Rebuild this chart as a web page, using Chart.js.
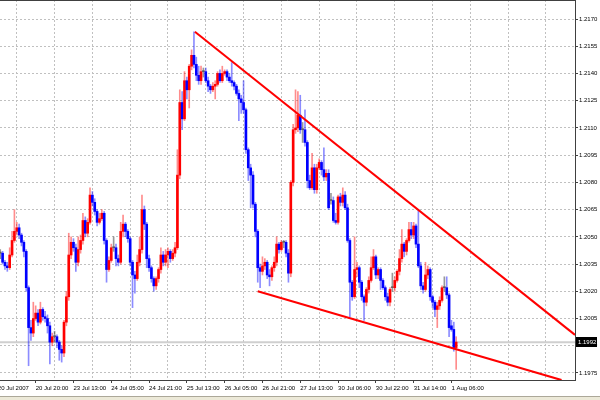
<!DOCTYPE html>
<html>
<head>
<meta charset="utf-8">
<script src="https://cdn.jsdelivr.net/npm/chart.js@4.4.1/dist/chart.umd.min.js"></script>
<style>
  html, body { margin: 0; padding: 0; background: #fff; }
  #chart { display: block; }
</style>
</head>
<body>
<canvas id="chart" width="600" height="400"></canvas>
<script>
// hourly candles, USDCHF 20 Jul - 1 Aug 2007
const opens = [
  1.2041,1.2041,1.2036,1.2034,1.2033,1.2040,1.2048,1.2053,1.2055,1.2051,
  1.2047,1.2042,1.2022,1.2000,1.1997,1.2005,1.2008,1.2003,1.2010,1.2006,
  1.2005,1.2001,1.1992,1.1995,1.1995,1.1992,1.1988,1.1986,1.2003,1.2017,
  1.2040,1.2047,1.2044,1.2036,1.2043,1.2048,1.2059,1.2052,1.2058,1.2073,
  1.2069,1.2064,1.2058,1.2060,1.2063,1.2048,1.2032,1.2037,1.2044,1.2044,
  1.2038,1.2036,1.2053,1.2057,1.2053,1.2049,1.2036,1.2029,1.2027,1.2036,
  1.2043,1.2065,1.2057,1.2038,1.2033,1.2027,1.2023,1.2027,1.2032,1.2040,
  1.2036,1.2040,1.2042,1.2038,1.2041,1.2044,1.2084,1.2124,1.2115,1.2136,
  1.2131,1.2144,1.2150,1.2145,1.2139,1.2136,1.2141,1.2141,1.2136,1.2133,
  1.2131,1.2133,1.2134,1.2140,1.2136,1.2140,1.2141,1.2138,1.2136,1.2135,
  1.2133,1.2129,1.2126,1.2124,1.2120,1.2098,1.2088,1.2084,1.2068,1.2053,
  1.2033,1.2031,1.2034,1.2036,1.2029,1.2028,1.2033,1.2036,1.2046,1.2043,
  1.2047,1.2047,1.2041,1.2030,1.2080,1.2109,1.2110,1.2117,1.2109,1.2109,
  1.2102,1.2081,1.2077,1.2088,1.2076,1.2088,1.2091,1.2087,1.2083,1.2085,
  1.2070,1.2070,1.2059,1.2058,1.2072,1.2069,1.2073,1.2066,1.2048,1.2025,
  1.2017,1.2032,1.2033,1.2025,1.2017,1.2014,1.2021,1.2026,1.2033,1.2039,
  1.2029,1.2032,1.2026,1.2022,1.2017,1.2014,1.2022,1.2022,1.2026,1.2031,
  1.2038,1.2046,1.2042,1.2048,1.2054,1.2051,1.2056,1.2046,1.2034,1.2023,
  1.2021,1.2029,1.2032,1.2017,1.2014,1.2010,1.2012,1.2015,1.2022,1.2022,
  1.2018,1.2001,1.1999,1.1989
];
const highs = [
  1.2043,1.2042,1.2037,1.2036,1.2044,1.2053,1.2065,1.2058,1.2057,1.2052,
  1.2048,1.2043,1.2023,1.2004,1.2014,1.2012,1.2010,1.2014,1.2011,1.2009,
  1.2007,1.2003,1.1997,1.1998,1.1996,1.1993,1.1990,1.2004,1.2020,1.2052,
  1.2050,1.2049,1.2046,1.2050,1.2051,1.2063,1.2061,1.2060,1.2077,1.2075,
  1.2071,1.2065,1.2063,1.2065,1.2064,1.2049,1.2039,1.2046,1.2050,1.2046,
  1.2040,1.2058,1.2062,1.2058,1.2054,1.2050,1.2037,1.2031,1.2040,1.2050,
  1.2073,1.2067,1.2058,1.2040,1.2034,1.2028,1.2028,1.2033,1.2044,1.2042,
  1.2043,1.2044,1.2043,1.2043,1.2047,1.2098,1.2131,1.2130,1.2141,1.2138,
  1.2145,1.2153,1.2163,1.2149,1.2144,1.2144,1.2143,1.2143,1.2138,1.2134,
  1.2135,1.2136,1.2141,1.2142,1.2144,1.2142,1.2142,1.2140,1.2146,1.2136,
  1.2134,1.2131,1.2128,1.2136,1.2121,1.2099,1.2090,1.2086,1.2069,1.2054,
  1.2035,1.2039,1.2038,1.2037,1.2032,1.2034,1.2039,1.2050,1.2047,1.2048,
  1.2048,1.2048,1.2043,1.2081,1.2112,1.2131,1.2130,1.2128,1.2113,1.2120,
  1.2103,1.2084,1.2096,1.2090,1.2090,1.2093,1.2092,1.2099,1.2087,1.2087,
  1.2074,1.2072,1.2063,1.2073,1.2074,1.2077,1.2075,1.2068,1.2049,1.2026,
  1.2050,1.2036,1.2034,1.2026,1.2018,1.2022,1.2028,1.2039,1.2043,1.2040,
  1.2033,1.2033,1.2027,1.2023,1.2019,1.2022,1.2030,1.2028,1.2032,1.2043,
  1.2054,1.2047,1.2049,1.2058,1.2058,1.2058,1.2057,1.2065,1.2036,1.2025,
  1.2036,1.2034,1.2033,1.2018,1.2015,1.2014,1.2017,1.2023,1.2028,1.2028,
  1.2019,1.2004,1.2003,1.1995
];
const lows = [
  1.2038,1.2035,1.2032,1.2031,1.2032,1.2039,1.2047,1.2051,1.2049,1.2045,
  1.2039,1.2020,1.1979,1.1993,1.1995,1.2004,1.2001,1.2002,1.2004,1.2003,
  1.1997,1.1980,1.1990,1.1992,1.1989,1.1982,1.1981,1.1984,1.2001,1.2015,
  1.2038,1.2042,1.2031,1.2034,1.2041,1.2046,1.2050,1.2050,1.2057,1.2067,
  1.2062,1.2056,1.2057,1.2059,1.2046,1.2025,1.2031,1.2036,1.2042,1.2034,
  1.2034,1.2035,1.2050,1.2050,1.2047,1.2034,1.2011,1.2019,1.2026,1.2034,
  1.2041,1.2054,1.2033,1.2031,1.2025,1.2020,1.2021,1.2025,1.2030,1.2034,
  1.2034,1.2033,1.2036,1.2037,1.2039,1.2043,1.2082,1.2109,1.2114,1.2126,
  1.2121,1.2142,1.2143,1.2136,1.2134,1.2134,1.2138,1.2135,1.2130,1.2129,
  1.2130,1.2126,1.2133,1.2135,1.2135,1.2139,1.2136,1.2135,1.2133,1.2131,
  1.2128,1.2114,1.2118,1.2118,1.2096,1.2081,1.2066,1.2066,1.2050,1.2025,
  1.2022,1.2029,1.2032,1.2027,1.2023,1.2026,1.2031,1.2034,1.2041,1.2042,
  1.2044,1.2039,1.2025,1.2028,1.2078,1.2107,1.2108,1.2107,1.2102,1.2100,
  1.2077,1.2076,1.2076,1.2074,1.2074,1.2087,1.2084,1.2081,1.2081,1.2065,
  1.2068,1.2058,1.2057,1.2057,1.2067,1.2067,1.2065,1.2047,1.2006,1.2015,
  1.2016,1.2028,1.2022,1.2015,1.2004,1.2012,1.2019,1.2025,1.2032,1.2027,
  1.2027,1.2021,1.2021,1.2015,1.2012,1.2012,1.2020,1.2020,1.2025,1.2029,
  1.2036,1.2039,1.2040,1.2047,1.2049,1.2049,1.2044,1.2033,1.2021,1.2019,
  1.2020,1.2027,1.2015,1.2011,1.2006,1.2000,1.2010,1.2014,1.2020,1.2016,
  1.1995,1.1998,1.1987,1.1977
];
const closes = [
  1.2041,1.2036,1.2034,1.2033,1.2040,1.2048,1.2053,1.2055,1.2051,1.2047,
  1.2042,1.2022,1.2000,1.1997,1.2005,1.2008,1.2003,1.2010,1.2006,1.2005,
  1.2001,1.1992,1.1995,1.1995,1.1992,1.1988,1.1986,1.2003,1.2017,1.2040,
  1.2047,1.2044,1.2036,1.2043,1.2048,1.2059,1.2052,1.2058,1.2073,1.2069,
  1.2064,1.2058,1.2060,1.2063,1.2048,1.2032,1.2037,1.2044,1.2044,1.2038,
  1.2036,1.2053,1.2057,1.2053,1.2049,1.2036,1.2029,1.2027,1.2036,1.2043,
  1.2065,1.2057,1.2038,1.2033,1.2027,1.2023,1.2027,1.2032,1.2040,1.2036,
  1.2040,1.2042,1.2038,1.2041,1.2044,1.2084,1.2124,1.2115,1.2136,1.2131,
  1.2144,1.2150,1.2145,1.2139,1.2136,1.2141,1.2141,1.2136,1.2133,1.2131,
  1.2133,1.2134,1.2140,1.2136,1.2140,1.2141,1.2138,1.2136,1.2135,1.2133,
  1.2129,1.2126,1.2124,1.2120,1.2098,1.2088,1.2084,1.2068,1.2053,1.2033,
  1.2031,1.2034,1.2036,1.2029,1.2028,1.2033,1.2036,1.2046,1.2043,1.2047,
  1.2047,1.2041,1.2030,1.2080,1.2109,1.2110,1.2117,1.2109,1.2109,1.2102,
  1.2081,1.2077,1.2088,1.2076,1.2088,1.2091,1.2087,1.2083,1.2085,1.2066,
  1.2070,1.2059,1.2058,1.2072,1.2069,1.2073,1.2066,1.2048,1.2025,1.2017,
  1.2032,1.2033,1.2025,1.2017,1.2014,1.2021,1.2026,1.2033,1.2039,1.2029,
  1.2032,1.2026,1.2022,1.2017,1.2014,1.2021,1.2022,1.2026,1.2031,1.2038,
  1.2046,1.2042,1.2048,1.2054,1.2051,1.2056,1.2046,1.2034,1.2023,1.2021,
  1.2029,1.2032,1.2017,1.2014,1.2010,1.2012,1.2015,1.2022,1.2022,1.2018,
  1.2000,1.1999,1.1989,1.1992
];

// time axis: label every 16 bars, grid halfway between labels
const dateLabels = ['20 Jul 2007', '20 Jul 20:00', '23 Jul 13:00', '24 Jul 05:00', '24 Jul 21:00',
  '25 Jul 13:00', '26 Jul 05:00', '26 Jul 21:00', '27 Jul 13:00', '30 Jul 06:00',
  '30 Jul 22:00', '31 Jul 14:00', '1 Aug 06:00'];
const labelBars = [-1, 15, 31, 47, 63, 79, 95, 111, 127, 143, 159, 175, 191];
const gridBars = [7, 23, 39, 55, 71, 87, 103, 119, 135, 151, 167, 183, 199, 215, 231];

const priceTicks = [1.1975, 1.1990, 1.2005, 1.2020, 1.2035, 1.2050, 1.2065, 1.2080,
  1.2095, 1.2110, 1.2125, 1.2140, 1.2155, 1.2170];

// trend lines drawn on the chart: [bar, price] pairs
const upperTrend = [[82.4, 1.2163], [243.3, 1.1996]];
const lowerTrend = [[109, 1.2020], [237.6, 1.19711]];
const bidPrice = 1.1992;

const X_MIN = -0.1, X_MAX = 243.3;
const Y_MIN = 1.197114, Y_MAX = 1.218047;
const FONT = {family: "'Liberation Sans', Arial, sans-serif", size: 6};

function dir(i) {
    if (closes[i] > opens[i]) return 1;
    if (closes[i] < opens[i]) return -1;
    return 0;
}
const bodyColor = ctx => ({'1': '#ff0000', '-1': '#0000ff', '0': '#606060'})[dir(ctx.dataIndex)];
const wickColor = ctx => ({'1': 'rgba(255,0,0,0.45)', '-1': 'rgba(0,0,255,0.45)', '0': 'rgba(0,0,0,0.4)'})[dir(ctx.dataIndex)];

const priceBox = {
    id: 'priceBox',
    afterDraw(chart) {
        const {ctx, chartArea, scales} = chart;
        ctx.save();
        // top frame line
        ctx.strokeStyle = '#404040';
        ctx.lineWidth = 1;
        ctx.beginPath();
        ctx.moveTo(chartArea.left, chartArea.top + 0.5);
        ctx.lineTo(chartArea.right + 0.5, chartArea.top + 0.5);
        ctx.stroke();
        // current bid label
        const y = scales.y.getPixelForValue(bidPrice);
        ctx.fillStyle = '#000';
        ctx.fillRect(chartArea.right + 1, Math.round(y) - 5, 21, 10);
        ctx.fillStyle = '#fff';
        ctx.font = "6px 'Liberation Sans', Arial, sans-serif";
        ctx.textBaseline = 'middle';
        ctx.textAlign = 'left';
        ctx.fillText(bidPrice.toFixed(4), chartArea.right + 3, Math.round(y));
        // tab strip under the time axis
        ctx.fillStyle = '#ece9d8';
        ctx.fillRect(0, 396, 600, 4);
        ctx.fillStyle = '#aca899';
        ctx.fillRect(0, 396, 600, 1);
        ctx.restore();
    }
};

new Chart(document.getElementById('chart'), {
    data: {
        datasets: [
            {
                type: 'line',
                data: [{x: X_MIN, y: bidPrice}, {x: X_MAX, y: bidPrice}],
                borderColor: '#cfcfcf',
                borderWidth: 2,
                pointRadius: 0,
                order: 4
            },
            {
                type: 'bar',
                data: highs.map((h, i) => ({x: i, y: [lows[i], h]})),
                backgroundColor: wickColor,
                barThickness: 1,
                grouped: false,
                order: 3
            },
            {
                type: 'bar',
                data: opens.map((o, i) => ({x: i, y: [o, closes[i]]})),
                backgroundColor: bodyColor,
                barThickness: 2,
                minBarLength: 1,
                grouped: false,
                order: 2
            },
            {
                type: 'line',
                data: upperTrend.map(p => ({x: p[0], y: p[1]})),
                borderColor: '#ff0000',
                borderWidth: 2,
                pointRadius: 0,
                order: 1
            },
            {
                type: 'line',
                data: lowerTrend.map(p => ({x: p[0], y: p[1]})),
                borderColor: '#ff0000',
                borderWidth: 2,
                pointRadius: 0,
                order: 1
            }
        ]
    },
    options: {
        responsive: false,
        animation: false,
        layout: {padding: 0},
        plugins: {legend: {display: false}, tooltip: {enabled: false}},
        scales: {
            x: {
                type: 'linear',
                position: 'bottom',
                offset: false,
                min: X_MIN,
                max: X_MAX,
                afterBuildTicks: scale => { scale.ticks = labelBars.map(v => ({value: v})); },
                afterFit: scale => {
                    scale.height = 20;
                    scale.paddingLeft = 0;
                    scale.paddingRight = 0;
                },
                ticks: {
                    autoSkip: false,
                    maxRotation: 0,
                    minRotation: 0,
                    align: 'start',
                    padding: 2,
                    color: '#000',
                    font: FONT,
                    callback: (v, i) => dateLabels[i]
                },
                grid: {offset: false, drawOnChartArea: false, tickLength: 3, tickColor: '#404040'},
                border: {display: true, color: '#404040'}
            },
            xg: {
                type: 'linear',
                position: 'top',
                offset: false,
                min: X_MIN,
                max: X_MAX,
                afterBuildTicks: scale => { scale.ticks = gridBars.map(v => ({value: v})); },
                afterFit: scale => {
                    scale.height = 0;
                    scale.paddingLeft = 0;
                    scale.paddingRight = 0;
                },
                ticks: {display: false},
                grid: {offset: false, color: '#c0c0c0', drawTicks: false},
                border: {display: false, dash: [2, 2]}
            },
            y: {
                type: 'linear',
                position: 'right',
                min: Y_MIN,
                max: Y_MAX,
                afterBuildTicks: scale => { scale.ticks = priceTicks.map(v => ({value: v})); },
                afterFit: scale => {
                    scale.width = 25;
                    scale.paddingTop = 0;
                    scale.paddingBottom = 0;
                },
                ticks: {
                    padding: 1,
                    color: '#000',
                    font: FONT,
                    callback: v => v.toFixed(4)
                },
                grid: {
                    color: '#c0c0c0',
                    tickLength: 3,
                    tickColor: '#404040',
                    tickBorderDash: []
                },
                border: {display: true, color: '#404040', dash: [2, 2]}
            }
        }
    },
    plugins: [priceBox]
});
</script>
</body>
</html>
